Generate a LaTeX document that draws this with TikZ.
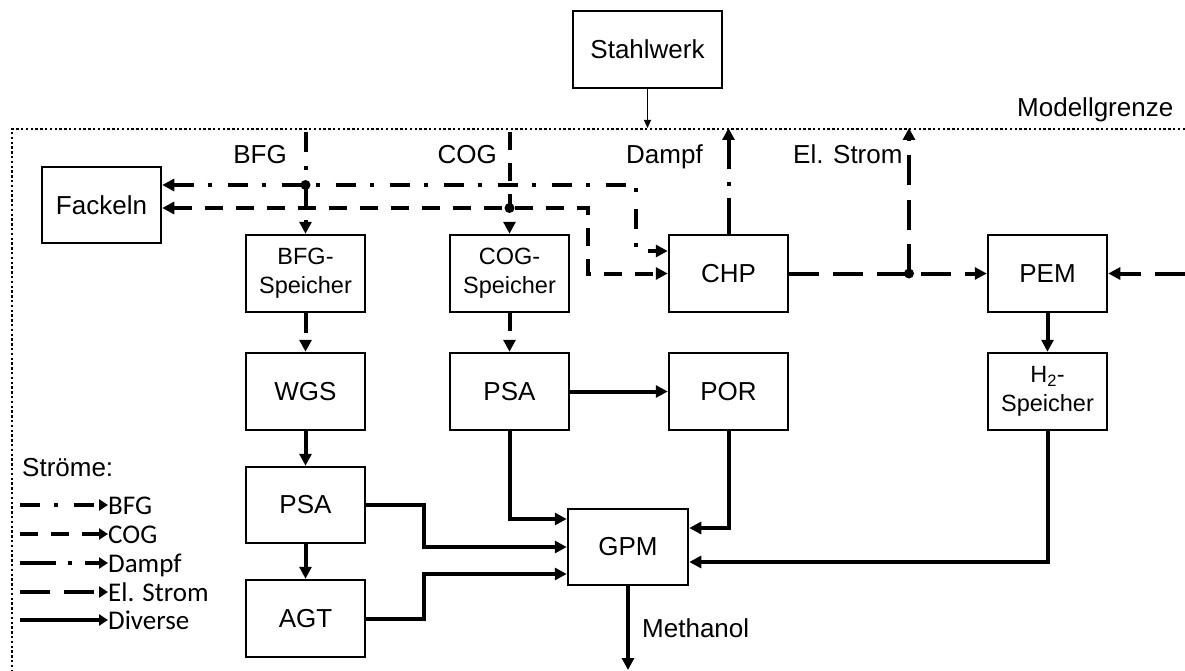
\documentclass[tikz,border=0pt]{standalone}
\usepackage{fontspec}
\setmainfont{Liberation Sans}
\newfontfamily\legfont{Carlito}
\usetikzlibrary{arrows.meta}
\tikzset{
 box/.style={draw, line width=2.5pt, minimum width=119pt, minimum height=77pt, inner sep=0pt, font=\fontsize{26}{31}\selectfont},
 sbox/.style={box, align=center, font=\fontsize{23.5}{29}\selectfont},
 bigtip/.style={-{Triangle[length=12pt,width=12pt]}},
 conn/.style={line width=4pt, bigtip},
 bfgline/.style={dash pattern=on 20pt off 14pt on 4pt off 16pt},
 cogline/.style={dash pattern=on 18pt off 13pt},
 dampfline/.style={dash pattern=on 36pt off 12pt on 4pt off 13pt},
 stromline/.style={dash pattern=on 30pt off 14pt},
 lbl/.style={inner sep=0pt, font=\fontsize{26}{31}\selectfont},
 legtxt/.style={inner sep=0pt, font=\legfont\fontsize{27}{32}\selectfont, anchor=base west},
 legline/.style={line width=4pt, -{Triangle[length=9pt,width=11pt]}},
 boundary/.style={line width=2.6pt, dash pattern=on 2.4pt off 2.4pt},
 junction/.style={circle, fill, inner sep=0pt, minimum size=10pt},
}
\begin{document}
\begin{tikzpicture}[x=1pt,y=-1pt]
\useasboundingbox (0,0) rectangle (1185,671);

% boundary
\coordinate (bR) at (1185,129);
\coordinate (bC) at (12,129);
\coordinate (bB) at (12,671);
\draw[boundary] (bR) -- (bC) -- (bB);

% nodes
\node[box, minimum width=149pt] (stahl) at (647.5,49.5) {Stahlwerk};
\node[box, minimum height=76pt] (fackeln) at (101.5,205) {Fackeln};
\node[sbox] (bfgs) at (305.5,273.5) {BFG-\\Speicher};
\node[sbox] (cogs) at (509.5,273.5) {COG-\\Speicher};
\node[box] (chp) at (728.5,273.5) {CHP};
\node[box] (pem) at (1047.5,273.5) {PEM};
\node[box] (wgs) at (305.5,391.5) {WGS};
\node[box] (psa2) at (509.5,391.5) {PSA};
\node[box] (por) at (728.5,391.5) {POR};
\node[sbox] (h2s) at (1047.5,391.5) {H\textsubscript{2}-\\Speicher};
\node[box, minimum height=76pt] (psa1) at (305.5,505) {PSA};
\node[box] (agt) at (305.5,618.5) {AGT};
\node[box, minimum width=120pt, minimum height=76pt] (gpm) at (628,547) {GPM};

% labels
\node[lbl, anchor=base east] (tbfg) at (287,164) {BFG};
\node[lbl, anchor=base east] (tcog) at (497,164) {COG};
\node[lbl, anchor=base west] (tdampf) at (626,164) {Dampf};
\node[lbl, anchor=base west] (tstrom) at (793,164) {El. Strom};
\node[lbl, anchor=base west] (tmg) at (1017,117) {Modellgrenze};
\node[lbl, anchor=base west] (tmeth) at (642,637) {Methanol};

% Stahlwerk input
\coordinate (mg) at (647.5,128);
\draw[line width=1pt, -{Triangle[length=8pt,width=7pt]}] (stahl.south) -- (mg);

% BFG
\coordinate (bfgin) at (305.5,132);
\node[junction] (jb) at (305.5,185) {};
\coordinate (cb0) at (636,185);
\coordinate (cb) at (636,251);
\draw[conn, bfgline] (bfgin) -- (bfgs.north);
\draw[line width=4pt, bfgline, {Triangle[length=12pt,width=12pt]}-{Triangle[length=12pt,width=12pt]}]
  (fackeln.east |- jb) -- (cb0) -- (cb) -- (chp.west |- cb);

% COG
\coordinate (cogin) at (509.5,132);
\node[junction] (jc) at (509.5,208) {};
\coordinate (cc0) at (588,208);
\draw[conn, cogline] (cogin) -- (cogs.north);
\draw[line width=4pt, cogline, {Triangle[length=12pt,width=12pt]}-{Triangle[length=12pt,width=12pt]}]
  (fackeln.east |- jc) -- (cc0) |- (chp.west);

% Dampf
\draw[conn, dampfline] (chp.north) -- (chp.north |- mg);

% El. Strom
\node[junction] (js) at (909,273.5) {};
\coordinate (rin) at (1185,273.5);
\draw[conn, stromline] (chp.east) -- (pem.west);
\draw[conn, stromline] (js.center) -- (js.center |- mg);
\draw[conn, stromline] (rin) -- (pem.east);

% storage outputs
\draw[conn, bfgline] (bfgs.south) -- (wgs.north);
\draw[conn, cogline] (cogs.south) -- (psa2.north);

% Diverse
\draw[conn] (wgs) -- (psa1);
\draw[conn] (psa1) -- (agt);
\draw[conn] (psa2) -- (por);
\draw[conn] (pem) -- (h2s);
\draw[conn] (psa2.south) |- ([yshift=28pt]gpm.west);
\draw[conn] (psa1.east) -- ++(58,0) |- (gpm.west);
\draw[conn] (agt.east) -- ++(58,0) |- ([yshift=-27pt]gpm.west);
\draw[conn] (por.south) |- ([yshift=19pt]gpm.east);
\draw[conn] (h2s.south) |- ([yshift=-15pt]gpm.east);
\coordinate (meth) at (628,670);
\draw[conn] (gpm.south) -- (meth);

% legend
\node[lbl, anchor=base west] (tstr) at (22,476) {Ströme:};
\node[legtxt] (l1) at (108,514) {BFG};
\node[legtxt] (l2) at (108,543) {COG};
\node[legtxt] (l3) at (108,572) {Dampf};
\node[legtxt] (l4) at (108,601) {El. Strom};
\node[legtxt] (l5) at (108,629) {Diverse};
\coordinate (s1) at (20,505);
\coordinate (s2) at (20,534);
\coordinate (s3) at (20,563);
\coordinate (s4) at (20,592);
\coordinate (s5) at (20,620);
\draw[legline, bfgline] (s1) -- (l1.west |- s1);
\draw[legline, cogline] (s2) -- (l2.west |- s2);
\draw[legline, dampfline] (s3) -- (l3.west |- s3);
\draw[legline, stromline] (s4) -- (l4.west |- s4);
\draw[legline] (s5) -- (l5.west |- s5);
\end{tikzpicture}
\end{document}
